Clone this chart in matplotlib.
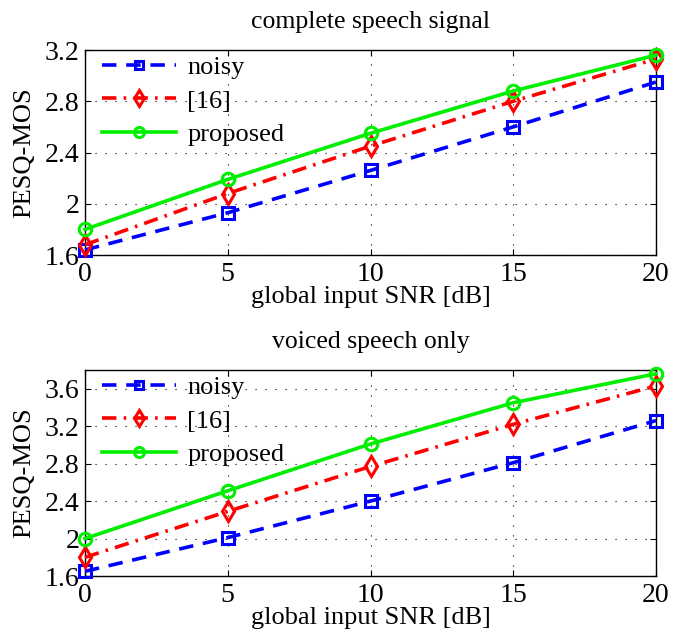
import matplotlib
matplotlib.use("Agg")
import matplotlib.pyplot as plt

snr = [0, 5, 10, 15, 20]
labels = ["noisy", "[16]", "proposed"]

complete_noisy = [1.64, 1.93, 2.26, 2.60, 2.95]
complete_ref16 = [1.68, 2.08, 2.45, 2.80, 3.13]
complete_prop = [1.80, 2.19, 2.55, 2.88, 3.16]

voiced_noisy = [1.65, 2.01, 2.40, 2.81, 3.26]
voiced_ref16 = [1.80, 2.29, 2.77, 3.22, 3.63]
voiced_prop = [2.00, 2.51, 3.01, 3.45, 3.76]

titles = ["complete speech signal", "voiced speech only"]
xticks = [0, 5, 10, 15, 20]
yticks_top = [1.6, 2.0, 2.4, 2.8, 3.2]
ytick_labels_top = ["1.6", "2", "2.4", "2.8", "3.2"]
yticks_bot = [1.6, 2.0, 2.4, 2.8, 3.2, 3.6]
ytick_labels_bot = ["1.6", "2", "2.4", "2.8", "3.2", "3.6"]

plt.rcParams['font.family'] = ['Liberation Serif', 'DejaVu Serif']

fig = plt.figure(figsize=(6.86, 6.33), dpi=100)
ax1 = fig.add_axes([85/686, 1-255/633, 571/686, 205/633])
ax2 = fig.add_axes([85/686, 1-576/633, 571/686, 206/633])

styles = [
    dict(color='#0000ff', ls=(0, (4, 2.7)), marker='s', ms=8),
    dict(color='#ff0000', ls=(0, (4, 2, 0.7, 2)), marker='d', ms=10),
    dict(color='#00ee00', ls='-', marker='o', ms=9),
]

def draw(ax, series, title, yticks, ylabs, ylim):
    for vals, lab, st in zip(series, labels, styles):
        ax.plot(snr, vals, color=st['color'], ls=st['ls'], lw=2.6,
                marker=st['marker'], ms=st['ms'], mfc='none', mew=2.2,
                label=lab, clip_on=False, zorder=3)
    ax.set_xlim(0, 20)
    ax.set_ylim(*ylim)
    ax.set_xticks(xticks)
    ax.set_xticklabels([str(x) for x in xticks])
    ax.set_yticks(yticks)
    ax.set_yticklabels(ylabs)
    ax.tick_params(direction='in', labelsize=20, length=4, width=0.8,
                   top=True, right=True, pad=4)
    ax.tick_params(axis='x', pad=5)
    ax.grid(True, color='black', ls=(0, (1, 8)), lw=0.8)
    for sp in ax.spines.values():
        sp.set_linewidth(1.0)
    ax.set_xlabel("global input SNR [dB]", fontsize=19, labelpad=-1)
    ax.set_ylabel("PESQ-MOS", fontsize=19, labelpad=7)
    ax.set_title(title, fontsize=18.5, pad=15.5)
    ax.legend(loc='upper left', frameon=False, fontsize=19,
              handlelength=2.8, handletextpad=0.42, labelspacing=0.38,
              borderaxespad=0.0, borderpad=0.1, markerscale=0.8,
              bbox_to_anchor=(0.026, 0.985))

draw(ax1, [complete_noisy, complete_ref16, complete_prop], titles[0],
     yticks_top, ytick_labels_top, (1.6, 3.2))
draw(ax2, [voiced_noisy, voiced_ref16, voiced_prop], titles[1],
     yticks_bot, ytick_labels_bot, (1.6, 3.8))

fig.savefig("out.png", dpi=100)
